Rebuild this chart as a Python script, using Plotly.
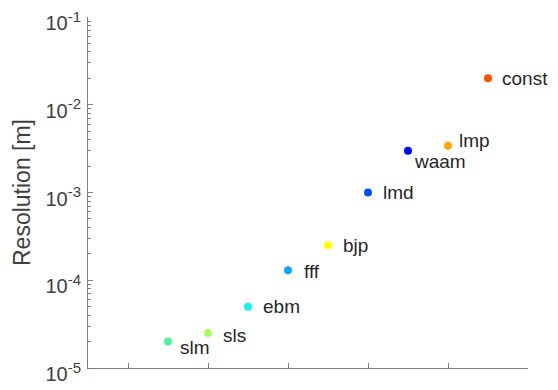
import math
import plotly.graph_objects as go

# Data
processes = ["slm", "sls", "ebm", "fff", "bjp", "lmd", "waam", "lmp", "const"]
x_index = [1, 2, 3, 4, 5, 6, 7, 8, 9]
resolution = [2e-5, 2.5e-5, 5e-5, 1.3e-4, 2.5e-4, 1e-3, 3e-3, 3.4e-3, 2e-2]
colors = ["#50f09c", "#a6ff5a", "#14f4f4", "#00a6ff", "#ffff00",
          "#0052ff", "#0008f0", "#ffa800", "#ff5200"]

y_tickvals = [1e-5, 1e-4, 1e-3, 1e-2, 1e-1]
y_exponents = ["-5", "-4", "-3", "-2", "-1"]
y_ticktext = ["10<sup><span style='font-size:15px'>%s</span></sup>" % e
              for e in y_exponents]
y_minor = [k * 10.0 ** e for e in range(-5, -1) for k in range(2, 10)]
x_tickvals = [0, 2, 4, 6, 8, 10]

# label offsets (pixels): xshift, yshift
label_dx = [10, 13, 13, 14, 13, 13, 4, 9, 12]
label_dy = [-6, -2, 0, -1, 0, 0, -11, 5, 0]

fig = go.Figure()
fig.add_trace(go.Scatter(
    x=x_index, y=resolution, mode="markers",
    marker=dict(color=colors, size=8, line=dict(width=0)),
    showlegend=False, hoverinfo="skip"))

for xi, yi, name, dx, dy in zip(x_index, resolution, processes, label_dx, label_dy):
    fig.add_annotation(x=xi, y=math.log10(yi), yref="y", xref="x", text=name,
                       showarrow=False, xanchor="left", yanchor="middle",
                       xshift=dx, yshift=dy,
                       font=dict(family="Liberation Sans, Arial, sans-serif",
                                 size=19, color="#262626"))

fig.update_layout(
    width=558, height=390,
    margin=dict(l=88, r=30, t=17, b=22),
    paper_bgcolor="white", plot_bgcolor="white",
    font=dict(family="Liberation Sans, Arial, sans-serif", color="#404040"),
)
fig.update_xaxes(range=[-1, 10], tickvals=x_tickvals, showticklabels=False,
                 ticks="inside", ticklen=5, tickcolor="#808080",
                 showline=True, linecolor="#808080", linewidth=1,
                 showgrid=False, zeroline=False, automargin=False)
fig.update_yaxes(type="log", range=[-5, -1], tickvals=y_tickvals,
                 ticktext=y_ticktext, ticks="inside", ticklen=5,
                 tickcolor="#808080", tickfont=dict(size=20, color="#404040"),
                 ticklabeloverflow="allow", ticklabelshift=6,
                 ticklabelstandoff=2,
                 showline=True, linecolor="#808080", linewidth=1,
                 showgrid=False, zeroline=False, automargin=False,
                 minor=dict(tickvals=y_minor, ticks="inside", ticklen=3,
                            tickcolor="#808080", showgrid=False),
                 title=dict(text="Resolution [m]", standoff=8,
                            font=dict(size=23, color="#404040")))

fig.write_html("out.html", config={"displayModeBar": False},
               post_script="document.body.style.margin='0px';")
